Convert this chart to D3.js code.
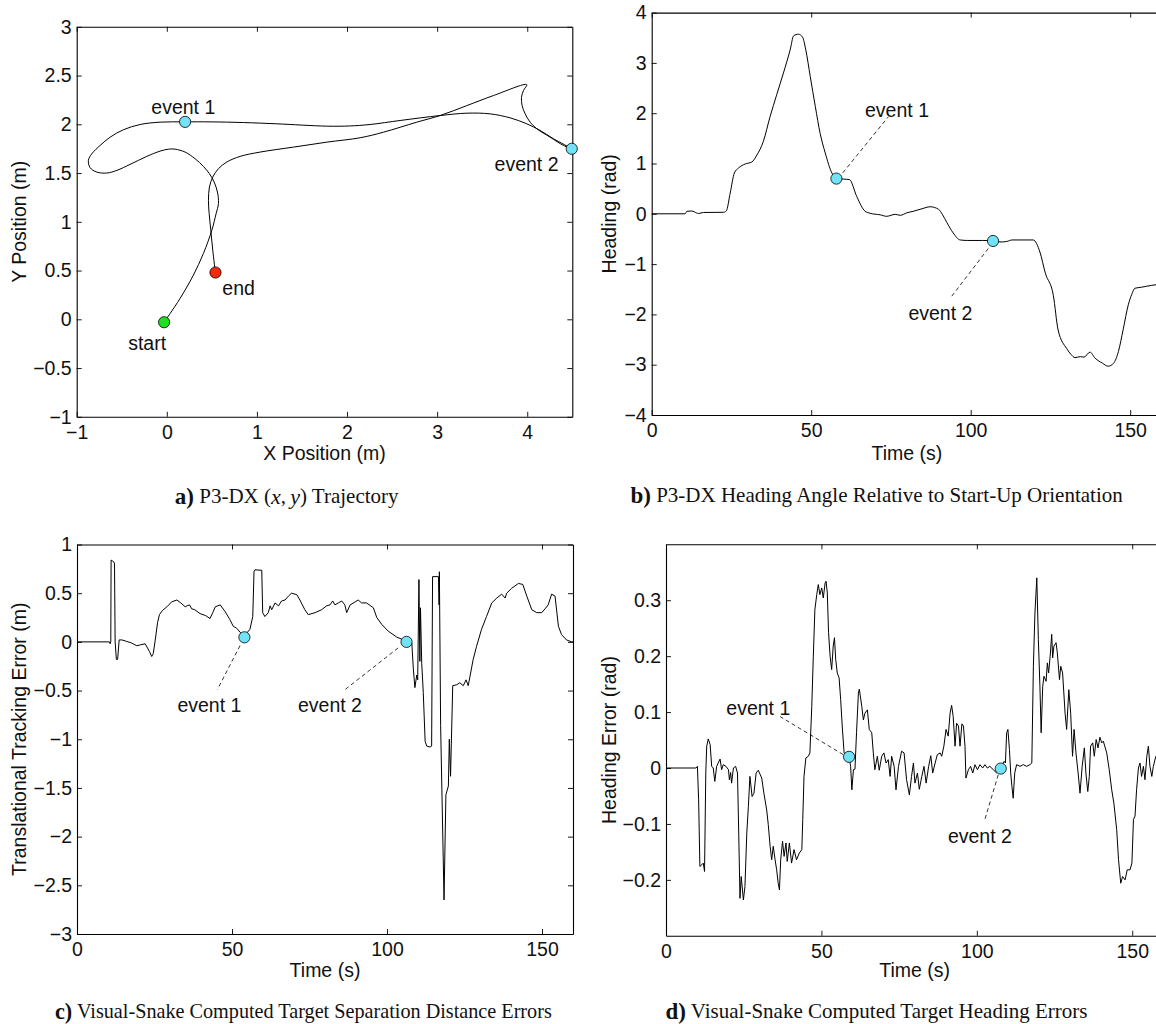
<!DOCTYPE html>
<html><head><meta charset="utf-8">
<script src="https://cdn.jsdelivr.net/npm/d3@7"></script>
<style>html,body{margin:0;padding:0;background:#fff;}svg{display:block;}</style>
</head><body>
<script>
// ---------------- DATA ----------------
// Panel a: P3-DX (x,y) trajectory, metres
const trajX = [-0.03,0.037,0.148,0.295,0.406,0.5,0.547,0.573,0.562,0.525,0.473,0.406,0.314,0.203,0.092,0.018,-0.074,-0.222,-0.407,-0.555,-0.666,-0.777,-0.851,-0.87,-0.832,-0.74,-0.629,-0.482,-0.296,-0.074,0.203,0.481,0.85,1.221,1.776,2.03,2.256,2.589,3.033,3.33,3.588,3.81,3.995,4.143,4.291,4.494,4.402,4.254,4.107,4.032,3.977,3.943,3.936,3.958,3.995,3.625,3.33,3.033,2.775,2.404,2.146,1.776,1.405,1.035,0.814,0.666,0.573,0.51,0.473,0.462,0.47,0.488,0.51,0.539];
const trajY = [-0.03,0.06,0.215,0.453,0.675,0.914,1.084,1.187,1.305,1.408,1.494,1.568,1.647,1.715,1.745,1.745,1.725,1.671,1.589,1.527,1.5,1.51,1.555,1.63,1.698,1.783,1.868,1.944,1.998,2.022,2.025,2.025,2.018,2.005,1.981,1.983,1.998,2.039,2.09,2.114,2.107,2.066,2.005,1.937,1.852,1.749,1.783,1.868,1.954,2.022,2.107,2.192,2.277,2.346,2.407,2.295,2.192,2.09,2.022,1.919,1.862,1.817,1.766,1.715,1.671,1.613,1.545,1.459,1.357,1.22,1.084,0.914,0.709,0.477];
const trajMarkers = [
  {name:"start",  x:-0.03, y:-0.03, fill:"#1ee01e"},
  {name:"end",    x:0.54,  y:0.48,  fill:"#f42a0a"},
  {name:"event 1",x:0.203, y:2.025, fill:"#72e2f6"},
  {name:"event 2",x:4.494, y:1.749, fill:"#72e2f6"}
];
const trajLabels = [
  {text:"event 1", x:0.183, y:2.18},
  {text:"start",   x:-0.218,y:-0.246},
  {text:"end",     x:0.797, y:0.318},
  {text:"event 2", x:3.992, y:1.59}
];

// Panel b: heading (rad) vs time (s)
const headT = [0,10.5,11,12.6,13.3,14.7,16.2,22.5,23.4,24.6,25.9,27.2,29.3,31.4,33.0,35.0,37.1,39.2,41.3,43.4,44.5,46.0,47.3,48.3,49.7,51.3,52.8,54.4,56.5,57.9,60.1,62.0,64.3,66.9,68.5,71.6,73.7,75.0,76.3,77.9,80.0,82.0,84.7,87.3,89.9,91.2,92.5,94.5,96.7,99.1,103.7,107.0,109.5,111.3,113.0,119.6,121.7,123.4,125.9,127.4,130.1,131.5,132.7,134.4,135.5,137.4,139.0,141.3,143.1,144.8,146.3,147.8,149.4,150.5,151.5,153.5,155.2,158.1,160];
const headV = [0,0,0.05,0.056,0.04,0.006,0.026,0.03,0.06,0.41,0.81,0.91,0.99,1.03,1.17,1.44,1.93,2.37,2.8,3.26,3.54,3.57,3.51,3.26,2.73,2.13,1.6,1.21,0.81,0.70,0.69,0.68,0.34,0.05,0.01,-0.02,-0.05,-0.03,-0.01,-0.03,0.02,0.05,0.1,0.14,0.09,-0.02,-0.17,-0.38,-0.52,-0.53,-0.53,-0.54,-0.56,-0.55,-0.52,-0.52,-0.76,-1.18,-1.62,-2.31,-2.68,-2.8,-2.86,-2.84,-2.85,-2.75,-2.87,-2.97,-3.03,-2.97,-2.74,-2.3,-1.81,-1.6,-1.48,-1.46,-1.44,-1.41,-1.4];
const headEvents = [{t:57.9, v:0.70},{t:107.0, v:-0.54}];
const headLabels = [
  {text:"event 1", t:76.9, v:2.07, from:[59.9,0.815], to:[74.2,1.93]},
  {text:"event 2", t:90.5, v:-1.98, from:[105.5,-0.69], to:[93.8,-1.66]}
];

// Panel c: translational tracking error (m) vs time (s)
const sepErr = [[0,0],[10.5,0],[10.7,-0.02],[10.9,0],[11.0,0.84],[11.5,0.83],[11.9,0.82],[12.1,0.8],[12.3,0.0],[12.7,-0.18],[13.1,-0.18],[13.6,0.02],[14.5,0.02],[16.0,0.005],[17.5,-0.01],[19.3,-0.04],[20.5,-0.03],[22.0,-0.02],[23.4,-0.1],[24.1,-0.15],[24.6,-0.12],[25.2,0.01],[26.0,0.2],[26.6,0.28],[27.5,0.32],[29.0,0.36],[30.5,0.41],[32.2,0.43],[33.5,0.4],[34.9,0.36],[35.5,0.37],[36.3,0.38],[37.0,0.34],[38.0,0.33],[39.7,0.29],[41.5,0.27],[42.9,0.24],[43.8,0.3],[44.6,0.36],[46.2,0.38],[47.8,0.31],[49.3,0.23],[50.4,0.16],[51.5,0.14],[52.6,0.1],[53.9,0.05],[55.0,0.1],[55.8,0.13],[56.7,0.26],[57.1,0.72],[57.4,0.74],[59.6,0.735],[59.9,0.3],[60.6,0.26],[61.7,0.3],[62.3,0.37],[62.8,0.33],[63.9,0.4],[65.0,0.37],[66.0,0.42],[67.1,0.43],[68.2,0.47],[69.2,0.5],[70.9,0.485],[71.9,0.43],[73.5,0.33],[74.6,0.28],[76.8,0.3],[78.9,0.33],[80.5,0.37],[81.6,0.38],[82.5,0.42],[83.2,0.38],[84.3,0.4],[85.4,0.42],[86.4,0.38],[87.0,0.3],[88.1,0.38],[89.7,0.41],[90.7,0.43],[91.8,0.4],[93.4,0.4],[95.6,0.35],[96.7,0.25],[98.3,0.18],[100.4,0.11],[103.1,0.05],[105.3,0.02],[106.3,0.0],[108.0,-0.01],[108.5,-0.28],[109.0,-0.47],[109.6,-0.34],[109.9,-0.39],[110.3,0.64],[110.6,-0.2],[110.8,0.35],[111.2,-0.22],[111.7,-0.52],[112.3,-1.02],[112.8,-1.07],[113.9,-1.08],[114.4,-1.07],[114.7,0.67],[116.6,0.67],[116.8,0.38],[116.9,0.72],[117.3,-0.86],[118.4,-2.65],[119.0,-1.57],[119.8,-1.48],[120.1,-1.0],[120.5,-1.38],[121.2,-0.45],[122.5,-0.44],[123.5,-0.42],[124.6,-0.45],[125.5,-0.39],[126.2,-0.45],[127.8,-0.18],[128.9,-0.045],[130.5,0.13],[132.1,0.26],[133.8,0.4],[135.4,0.45],[137.0,0.49],[138.1,0.45],[138.6,0.5],[140.2,0.55],[142.4,0.6],[143.8,0.59],[145.1,0.47],[146.7,0.33],[148.3,0.3],[149.9,0.3],[151.0,0.34],[152.0,0.38],[153.1,0.49],[154.2,0.47],[155.3,0.16],[156.3,0.075],[157.9,0.02],[159.6,0],[160,0]];
const sepEvents = [{t:54.0, v:0.047},{t:106.3, v:0.0}];
const sepLabels = [
  {text:"event 1", t:42.7, v:-0.653, from:[52.6,-0.038], to:[45.3,-0.489]},
  {text:"event 2", t:81.6, v:-0.653, from:[103.6,-0.062], to:[86.5,-0.489]}
];

// Panel d: heading error (rad) vs time (s)
const headErr = [[0,0],[9.65,0],[10.1,0.003],[10.5,-0.057],[10.9,-0.176],[11.5,-0.173],[12.0,-0.17],[12.4,-0.185],[12.8,-0.009],[13.1,0.039],[13.6,0.052],[14.2,0.042],[14.7,0.003],[15.2,0],[15.7,-0.024],[16.3,0.003],[16.8,0.009],[17.4,0.016],[17.9,-0.003],[18.4,0.006],[19.3,0.003],[20.1,-0.003],[20.4,-0.021],[20.8,-0.008],[21.1,-0.027],[21.7,0],[22.4,0.003],[23.0,-0.009],[23.4,-0.116],[23.8,-0.233],[24.2,-0.194],[24.9,-0.236],[25.4,-0.212],[26.0,-0.116],[26.5,-0.069],[27.0,-0.015],[27.7,-0.051],[28.3,-0.045],[29.0,-0.009],[29.7,-0.004],[30.8,-0.018],[31.5,-0.045],[32.4,-0.075],[32.9,-0.101],[33.5,-0.14],[34.0,-0.164],[34.5,-0.14],[35.1,-0.164],[35.6,-0.182],[36.1,-0.206],[36.5,-0.218],[36.9,-0.164],[37.5,-0.131],[38.0,-0.158],[38.6,-0.134],[39.0,-0.167],[39.7,-0.134],[40.4,-0.17],[41.2,-0.146],[42.0,-0.164],[42.9,-0.152],[43.7,-0.146],[44.0,-0.092],[44.4,-0.015],[45.0,0.018],[45.8,0.021],[46.3,0.027],[46.9,0.11],[47.4,0.2],[47.9,0.283],[48.5,0.31],[49.0,0.328],[49.5,0.31],[50.1,0.322],[50.6,0.304],[51.2,0.331],[51.5,0.334],[51.9,0.313],[52.3,0.242],[52.8,0.2],[53.3,0.176],[53.8,0.218],[54.2,0.233],[54.6,0.194],[55.1,0.17],[55.7,0.161],[56.2,0.122],[56.7,0.075],[57.3,0.027],[58.9,0.02],[59.4,0.003],[59.8,-0.039],[60.3,-0.003],[60.8,-0.002],[61.3,0.063],[61.9,0.134],[62.2,0.141],[63.0,0.11],[63.5,0.086],[64.0,0.098],[64.8,0.104],[65.4,0.069],[66.2,0.063],[66.7,0.027],[67.2,-0.003],[68.0,0.021],[68.6,-0.004],[69.4,0.021],[70.1,0.027],[70.8,0.009],[71.5,0.015],[72.1,-0.015],[72.6,0.021],[73.4,0.003],[74.0,-0.039],[74.8,0.003],[75.8,0.03],[76.6,0.027],[77.4,-0.021],[78.3,-0.048],[79.0,-0.015],[79.6,0.009],[80.1,-0.027],[80.9,-0.009],[81.5,-0.038],[82.3,-0.015],[83.0,0.003],[83.7,-0.027],[84.5,0.003],[85.2,0.022],[85.8,-0.009],[86.6,0.009],[87.3,0.024],[88.2,0.027],[88.7,0.021],[89.4,0.039],[90.1,0.069],[90.8,0.057],[91.4,0.098],[91.9,0.112],[92.4,0.092],[93.0,0.039],[93.5,0.08],[94.1,0.075],[94.6,0.039],[95.2,0.079],[95.7,0.075],[96.2,0.039],[96.5,-0.018],[97.3,-0.003],[98.0,0.003],[98.7,-0.009],[99.4,0.006],[100.2,-0.003],[101.0,0.006],[101.9,0],[102.6,0.006],[103.4,0],[104.2,0.003],[105.3,-0.003],[106.4,-0.009],[107.7,-0.001],[108.8,0.012],[109.2,0.009],[109.6,0.063],[110.0,0.069],[110.5,0.033],[110.9,-0.009],[111.3,-0.033],[111.7,-0.054],[112.2,-0.009],[112.8,0.006],[113.9,0.003],[115.0,0.006],[116.0,0.003],[117.1,0.006],[117.7,0.009],[118.2,0.182],[118.7,0.277],[119.3,0.34],[119.8,0.23],[120.3,0.146],[120.7,0.063],[121.2,0.146],[121.6,0.164],[122.3,0.155],[122.7,0.188],[123.1,0.17],[123.6,0.2],[124.1,0.239],[124.4,0.197],[124.8,0.218],[125.5,0.224],[125.9,0.206],[126.6,0.158],[127.0,0.182],[127.6,0.17],[128.4,0.098],[128.9,0.069],[129.6,0.14],[130.2,0.098],[130.8,0.021],[131.3,0.069],[131.9,0.027],[132.6,-0.009],[133.2,-0.045],[133.9,0.003],[134.6,0.036],[135.1,-0.009],[135.7,-0.042],[136.2,-0.015],[136.6,0.039],[137.3,0.045],[137.8,0.021],[138.4,0.051],[139.0,0.036],[139.6,0.055],[140.2,0.045],[140.7,0.048],[141.8,0.027],[142.6,-0.003],[143.4,-0.039],[144.1,-0.063],[145.0,-0.11],[145.6,-0.164],[146.3,-0.206],[146.9,-0.194],[147.7,-0.2],[148.4,-0.182],[149.3,-0.182],[149.9,-0.17],[150.4,-0.092],[150.9,-0.086],[151.4,-0.039],[152.0,0],[152.5,0.009],[153.0,-0.015],[153.6,0.003],[154.1,-0.021],[154.7,0.021],[155.2,0.039],[155.7,0.003],[156.3,-0.015],[156.8,0.003],[157.6,0.021],[158,0.02]];
const headErrEvents = [{t:58.9, v:0.02},{t:107.7, v:-0.001}];
const headErrLabels = [
  {text:"event 1", t:29.7, v:0.107, from:[57.0,0.024], to:[36.7,0.092]},
  {text:"event 2", t:101.0, v:-0.121, from:[106.9,-0.012], to:[102.6,-0.092]}
];

// Tick values
const aXTicks = [-1,0,1,2,3,4];
const aYTicks = [-1,-0.5,0,0.5,1,1.5,2,2.5,3];
const timeTicks = [0,50,100,150];
const bYTicks = [-4,-3,-2,-1,0,1,2,3,4];
const cYTicks = [-3,-2.5,-2,-1.5,-1,-0.5,0,0.5,1];
const dYTicks = [-0.2,-0.1,0,0.1,0.2,0.3];

// ---------------- DRAWING ----------------
const SANS = '"Liberation Sans", Arial, Helvetica, sans-serif';
const SERIF = '"Liberation Serif", "Times New Roman", Times, serif';
const FS = 19.5;
const EVENT_FILL = "#72e2f6";

const svg = d3.select("body").append("svg").attr("width",1156).attr("height",1024);
const defs = svg.append("defs");
const fmt = d => d3.format("~g")(d);

function panel(o) {
  const x = d3.scaleLinear().domain(o.xDomain).range([o.left, o.right]);
  const y = d3.scaleLinear().domain(o.yDomain).range([o.bottom, o.top]);
  const g = svg.append("g");
  defs.append("clipPath").attr("id","clip-"+o.id).append("rect")
    .attr("x",o.left).attr("y",o.top).attr("width",o.right-o.left).attr("height",o.bottom-o.top);

  const style = sel => {
    sel.attr("font-family",SANS).attr("font-size",FS);
    sel.selectAll(".domain").attr("stroke","#000").attr("stroke-width",1.1);
    sel.selectAll(".tick line").attr("stroke","#000").attr("stroke-width",0.9);
    sel.selectAll(".tick text").attr("fill","#111");
  };
  g.append("g").attr("transform",`translate(0,${o.bottom})`)
    .call(d3.axisBottom(x).tickValues(o.xTicks).tickFormat(fmt).tickSizeInner(-5).tickSizeOuter(0).tickPadding(8.5)).call(style);
  g.append("g").attr("transform",`translate(0,${o.top})`)
    .call(d3.axisTop(x).tickValues(o.xTicks).tickFormat("").tickSizeInner(-5).tickSizeOuter(0)).call(style);
  g.append("g").attr("transform",`translate(${o.left},0)`)
    .call(d3.axisLeft(y).tickValues(o.yTicks).tickFormat(fmt).tickSizeInner(-5).tickSizeOuter(0).tickPadding(5)).call(style);
  g.append("g").attr("transform",`translate(${o.right},0)`)
    .call(d3.axisRight(y).tickValues(o.yTicks).tickFormat("").tickSizeInner(-5).tickSizeOuter(0)).call(style);

  // axis titles
  g.append("text").attr("x",(o.left+o.right)/2).attr("y",o.bottom+o.xTitleDy)
    .attr("text-anchor","middle").attr("dominant-baseline","central")
    .attr("font-family",SANS).attr("font-size",FS).attr("fill","#111").text(o.xTitle);
  g.append("text").attr("transform",`translate(${o.yTitleX},${(o.top+o.bottom)/2}) rotate(-90)`)
    .attr("text-anchor","middle").attr("dominant-baseline","central")
    .attr("font-family",SANS).attr("font-size",FS).attr("fill","#111").text(o.yTitle);
  return {g,x,y};
}

function drawLine(p, pts, id, curve) {
  p.g.append("path").datum(pts).attr("clip-path",`url(#clip-${id})`)
    .attr("fill","none").attr("stroke","#000").attr("stroke-width",1).attr("stroke-linejoin","round")
    .attr("d", d3.line().x(d=>p.x(d[0])).y(d=>p.y(d[1])).curve(curve||d3.curveLinear));
}
function drawMarkers(p, ms) {
  p.g.selectAll(null).data(ms).join("circle")
    .attr("cx",d=>p.x(d.x)).attr("cy",d=>p.y(d.y)).attr("r",5.6)
    .attr("fill",d=>d.fill).attr("stroke","#000").attr("stroke-width",0.8);
}
function drawAnnots(p, labels) {
  p.g.selectAll(null).data(labels).join("line")
    .attr("x1",d=>p.x(d.from[0])).attr("y1",d=>p.y(d.from[1]))
    .attr("x2",d=>p.x(d.to[0])).attr("y2",d=>p.y(d.to[1]))
    .attr("stroke","#000").attr("stroke-width",0.8).attr("stroke-dasharray","4,3");
  p.g.selectAll(null).data(labels).join("text")
    .attr("x",d=>p.x(d.t)).attr("y",d=>p.y(d.v))
    .attr("text-anchor","middle").attr("dominant-baseline","central")
    .attr("font-family",SANS).attr("font-size",FS).attr("fill","#111").text(d=>d.text);
}

// Panel a
const pa = panel({id:"a", left:76.7, right:572.3, top:26.8, bottom:416.8,
  xDomain:[-1,4.5], yDomain:[-1,3], xTicks:aXTicks, yTicks:aYTicks,
  xTitle:"X Position (m)", yTitle:"Y Position (m)", xTitleDy:36.5, yTitleX:18.5});
drawLine(pa, trajX.map((v,i)=>[v,trajY[i]]), "a", d3.curveCatmullRom.alpha(0.5));
drawMarkers(pa, trajMarkers);
pa.g.selectAll(null).data(trajLabels).join("text")
  .attr("x",d=>pa.x(d.x)).attr("y",d=>pa.y(d.y))
  .attr("text-anchor","middle").attr("dominant-baseline","central")
  .attr("font-family",SANS).attr("font-size",FS).attr("fill","#111").text(d=>d.text);

// Panel b
const pb = panel({id:"b", left:651.7, right:1162.1, top:12.6, bottom:415,
  xDomain:[0,160], yDomain:[-4,4], xTicks:timeTicks, yTicks:bYTicks,
  xTitle:"Time (s)", yTitle:"Heading (rad)", xTitleDy:38, yTitleX:608.6});
drawLine(pb, headT.map((t,i)=>[t,headV[i]]), "b", d3.curveMonotoneX);
drawAnnots(pb, headLabels);
drawMarkers(pb, headEvents.map(d=>({x:d.t,y:d.v,fill:EVENT_FILL})));

// Panel c
const pc = panel({id:"c", left:77, right:573, top:544.5, bottom:934,
  xDomain:[0,160], yDomain:[-3,1], xTicks:timeTicks, yTicks:cYTicks,
  xTitle:"Time (s)", yTitle:"Translational Tracking Error (m)", xTitleDy:35.6, yTitleX:18.5});
drawLine(pc, sepErr, "c");
drawAnnots(pc, sepLabels);
drawMarkers(pc, sepEvents.map(d=>({x:d.t,y:d.v,fill:EVENT_FILL})));

// Panel d
const pd = panel({id:"d", left:666, right:1163.3, top:544.3, bottom:935.8,
  xDomain:[0,160], yDomain:[-0.3,0.4], xTicks:timeTicks, yTicks:dYTicks,
  xTitle:"Time (s)", yTitle:"Heading Error (rad)", xTitleDy:34, yTitleX:608.6});
drawLine(pd, headErr, "d");
drawAnnots(pd, headErrLabels);
drawMarkers(pd, headErrEvents.map(d=>({x:d.t,y:d.v,fill:EVENT_FILL})));

// Captions
const captions = [
  {cx:286.7, cy:496.4, fs:21, parts:[["a)","bold"],[" P3-DX (",""],["x","italic"],[",\u2009",""],["y","italic"],[") Trajectory",""]]},
  {cx:876.6, cy:494.7, fs:21, parts:[["b)","bold"],[" P3-DX Heading Angle Relative to Start-Up Orientation",""]]},
  {cx:303.4, cy:1010.5, fs:20.2, parts:[["c)","bold"],[" Visual-Snake Computed Target Separation Distance Errors",""]]},
  {cx:876.5, cy:1010.5, fs:21, parts:[["d)","bold"],[" Visual-Snake Computed Target Heading Errors",""]]}
];
captions.forEach(c => {
  const t = svg.append("text").attr("x",c.cx).attr("y",c.cy).attr("text-anchor","middle")
    .attr("dominant-baseline","central").attr("font-family",SERIF).attr("font-size",c.fs).attr("fill","#111");
  c.parts.forEach(([s,st]) => {
    const ts = t.append("tspan").text(s);
    if (st==="bold") ts.attr("font-weight","bold").attr("font-size",c.fs+2);
    if (st==="italic") ts.attr("font-style","italic").attr("font-size",c.fs+1);
  });
});
</script>
</body></html>
